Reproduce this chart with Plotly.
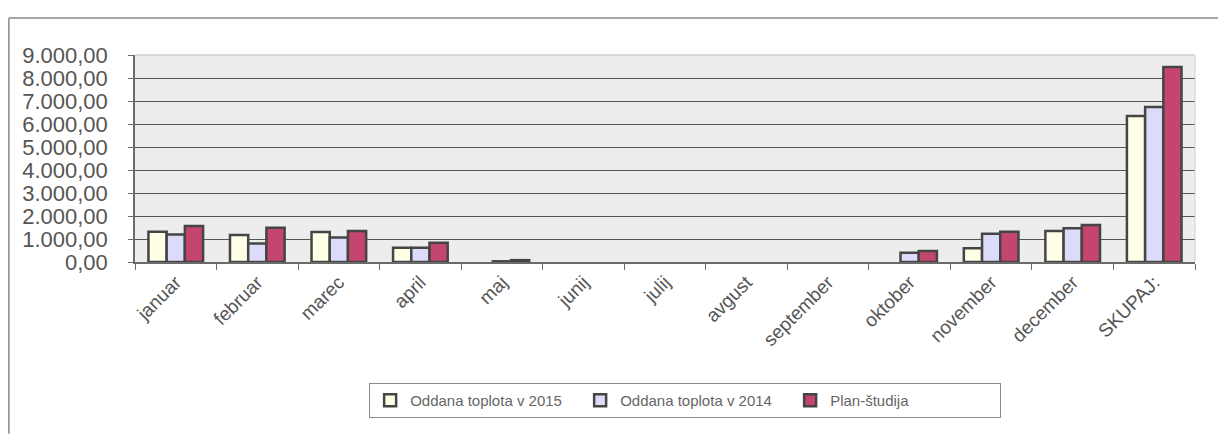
import plotly.graph_objects as go

months = ["januar", "februar", "marec", "april", "maj", "junij", "julij",
          "avgust", "september", "oktober", "november", "december", "SKUPAJ:"]

# None = no delivery that month (no bar drawn)
heat_2015 = [1320, 1170, 1300, 620, None, None, None, None, None, None, 600, 1350, 6350]
heat_2014 = [1200, 800, 1060, 620, 30, None, None, None, None, 400, 1230, 1465, 6740]
plan_study = [1565, 1490, 1350, 840, 80, None, None, None, None, 480, 1320, 1610, 8480]

series_names = ["Oddana toplota v 2015", "Oddana toplota v 2014", "Plan-študija"]
series_colors = ["#FFFFE6", "#DCDCFA", "#C4456E"]
series_values = [heat_2015, heat_2014, plan_study]

y_ticks = [0, 1000, 2000, 3000, 4000, 5000, 6000, 7000, 8000, 9000]

fig = go.Figure()
for name, color, vals in zip(series_names, series_colors, series_values):
    fig.add_trace(go.Bar(
        x=months, y=vals, name=name,
        marker=dict(color=color, line=dict(color="#454545", width=2.5)),
    ))

fig.update_layout(
    width=1218, height=434,
    margin=dict(l=135, r=23, t=55, b=172),
    paper_bgcolor="white",
    plot_bgcolor="#EEEDEE",
    separators=",.",
    barmode="group",
    bargap=0.33,
    bargroupgap=0,
    font=dict(family="Liberation Sans, Arial, sans-serif", color="#555555"),
    showlegend=True,
    legend=dict(
        orientation="h",
        x=0.519, xanchor="center",
        y=-0.585, yanchor="top",
        bordercolor="#8a8a8a", borderwidth=1,
        bgcolor="white",
        font=dict(size=15, color="#666666"),
        itemwidth=30,
        entrywidth=165, entrywidthmode="pixels",
        traceorder="normal",
    ),
    xaxis=dict(
        tickangle=-45,
        tickfont=dict(size=19, color="#555555"),
        showline=True, linecolor="#6a6a6a", linewidth=1.5,
        ticks="outside", ticklen=6, tickcolor="#6a6a6a",
        tickson="boundaries",
        showgrid=False,
    ),
    yaxis=dict(
        range=[0, 9000],
        tickvals=y_ticks,
        tickformat=",.2f",
        tickfont=dict(size=22, color="#555555"),
        showline=True, linecolor="#6a6a6a", linewidth=1.5,
        ticks="outside", ticklen=5, tickcolor="#6a6a6a",
        ticklabelstandoff=16,
        showgrid=True, gridcolor="#555555", gridwidth=1.4,
        zeroline=False,
    ),
    shapes=[
        # outer chart frame (top and left edges)
        dict(type="line", xref="paper", yref="paper", x0=-0.119, x1=1.03,
             y0=1.179, y1=1.179, line=dict(color="#8a8a8a", width=1.5)),
        dict(type="line", xref="paper", yref="paper", x0=-0.119, x1=-0.119,
             y0=1.179, y1=-0.83, line=dict(color="#8a8a8a", width=1.5)),
        # light edges of plotting area
        dict(type="line", xref="paper", yref="paper", x0=0, x1=1,
             y0=1, y1=1, line=dict(color="#bdbdbd", width=1)),
        dict(type="line", xref="paper", yref="paper", x0=1, x1=1,
             y0=0, y1=1, line=dict(color="#cfcfcf", width=1)),
    ],
)

fig.write_html("out.html")
